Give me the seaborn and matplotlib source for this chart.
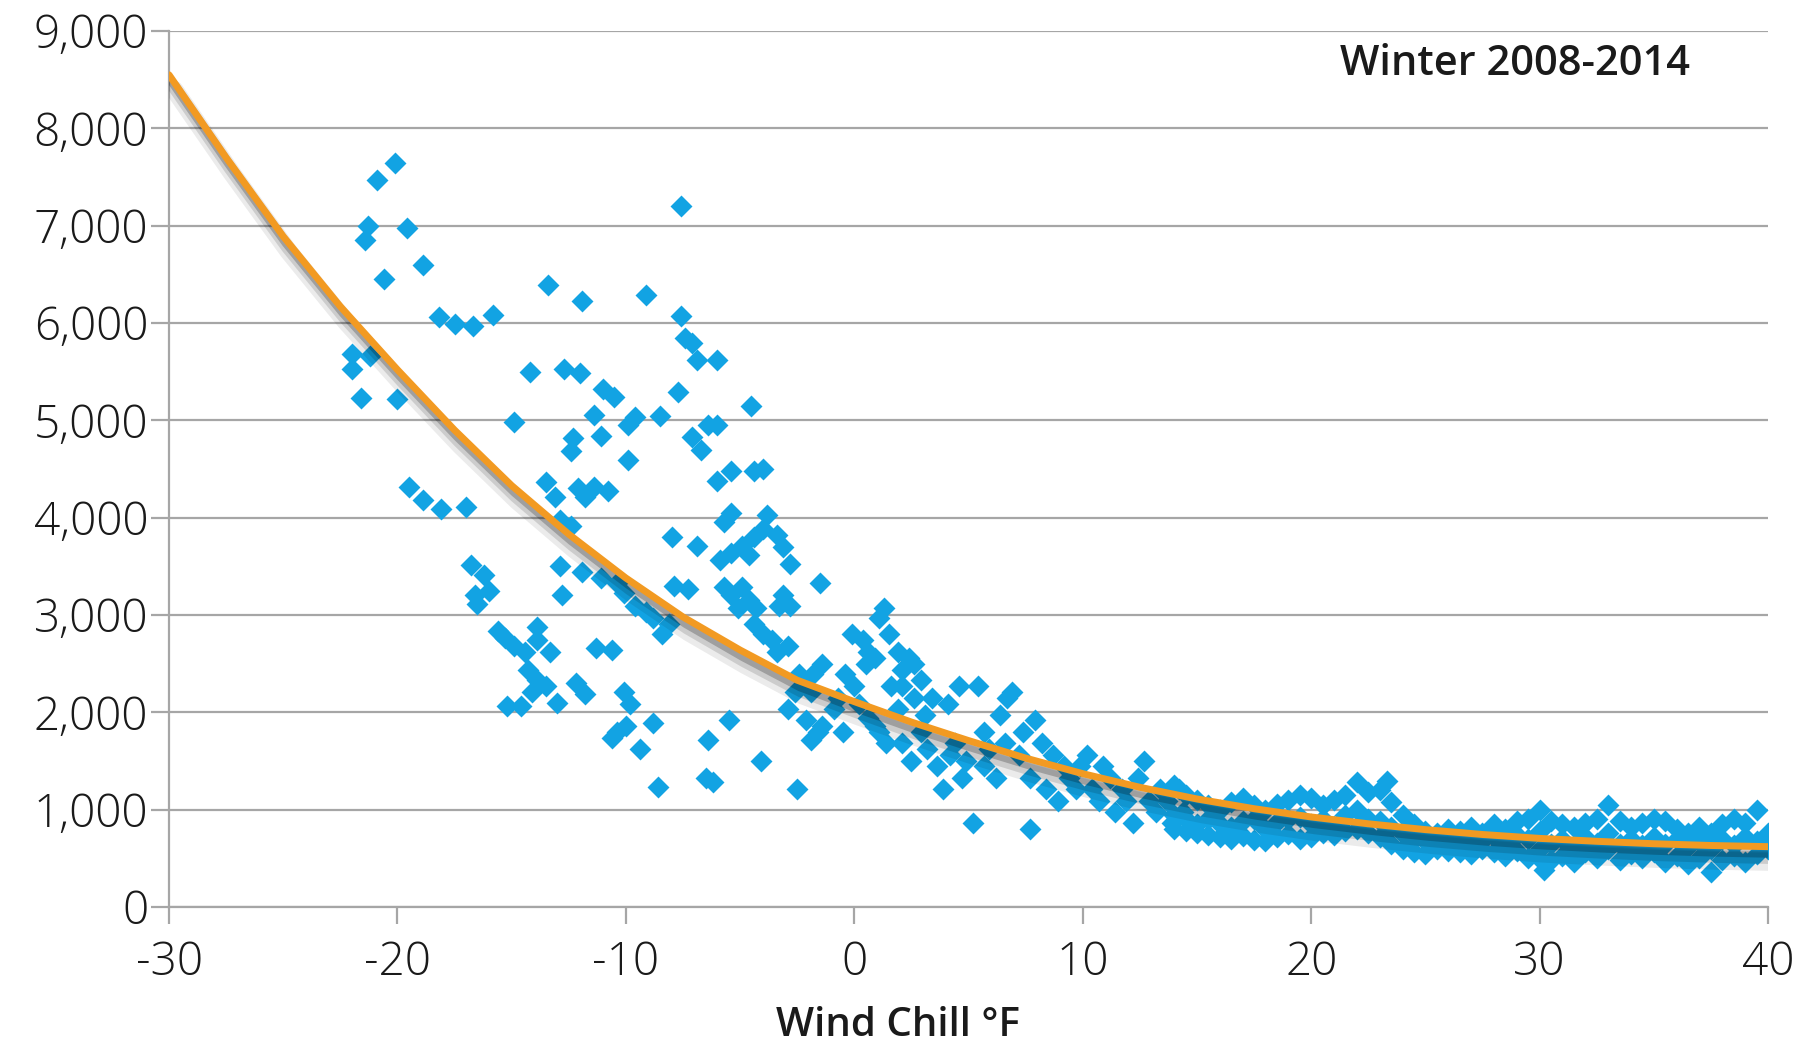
import matplotlib
matplotlib.use("Agg")
import matplotlib.pyplot as plt
import matplotlib.patheffects as pe
import seaborn as sns

# Scattered cold-weather points (wind chill degF, load)
x_cold = [-20.9, -20.1, -21.3, -21.4, -19.6, -20.6, -18.9, -22.0, -22.0, -21.6, -21.2, -20.0,
          -18.2, -17.5, -16.7, -15.8, -14.9, -14.2, -13.4, -11.9, -12.7, -12.0,
          -19.5, -18.9, -18.1, -17.0, -16.8, -16.2, -16.6, -16.0, -16.5,
          -15.6, -15.3, -14.9, -14.4, -15.2, -14.6, -13.9, -13.3, -14.3, -13.9, -13.5, -13.0, -14.1, -13.9,
          -13.5, -13.1, -12.9, -12.4, -12.9, -12.8, -12.2, -11.8, -12.4, -12.3,
          -12.1, -11.8, -11.4, -10.8, -11.4, -11.1, -11.0, -10.5,
          -11.9, -11.1, -10.4, -10.1, -11.3, -10.6, -10.4, -10.0, -10.6, -10.1, -9.8,
          -9.4, -8.8, -8.6, -9.9, -9.6, -9.9, -9.1, -8.5,
          -9.6, -9.1, -8.8, -8.4, -8.1, -8.0, -7.9, -7.3, -7.6,
          -7.6, -7.4, -7.1, -6.9, -7.7, -6.0, -7.1, -6.7, -6.4, -6.0, -6.9, -6.0,
          -5.4, -4.4, -4.0, -4.5, -5.7, -5.4,
          -5.9, -5.4, -4.9, -4.6, -4.4, -4.0, -3.8, -5.7, -5.4, -4.9, -4.6, -4.3, -5.1,
          -3.4, -3.1, -2.8, -3.1, -2.8, -3.3, -4.4, -4.0, -3.6, -3.4, -2.9,
          -5.5, -6.4, -6.5, -6.2, -4.1, -2.5, -2.9, -2.6, -2.2, -2.4,
          -1.5, -1.8, -1.9, -1.4, -2.1, -1.6, -1.4, -1.9, -0.9, -0.5, -0.7,
          -0.1, -0.4, 0.0, 0.4, 0.6, 0.5, 0.9, 1.1, 1.3, 0.2, 0.6, 0.9, 1.1, 1.4,
          1.5, 1.9, 2.1, 2.4, 2.6, 2.1, 2.6, 2.9, 1.6, 1.9, 2.1, 2.5, 2.9, 3.1, 3.4, 3.2,
          3.6, 3.9, 4.2, 4.4, 4.6, 4.1, 4.7, 5.2, 4.9, 5.4, 5.7, 5.9, 5.7, 6.2,
          6.4, 6.7, 6.9, 6.6, 7.2, 7.4, 7.7, 7.7, 7.9, 8.2, 8.4, 8.7, 8.9, 9.2, 9.4, 9.7, 9.9,
          10.2, 10.4, 10.7, 10.9, 11.2, 11.4, 11.7, 11.9, 12.2, 12.4, 12.7, 12.9, 13.2, 13.4,
          13.7, 13.9, 14.2, 14.4]
y_cold = [7470, 7640, 7000, 6850, 6980, 6450, 6600, 5680, 5530, 5230, 5660, 5220,
          6060, 5990, 5970, 6080, 4980, 5500, 6390, 6230, 5530, 5490,
          4310, 4180, 4090, 4110, 3510, 3410, 3210, 3250, 3110,
          2840, 2760, 2680, 2620, 2070, 2070, 2740, 2620, 2440, 2330, 2270, 2100, 2210, 2880,
          4370, 4210, 3980, 3910, 3500, 3210, 2300, 2190, 4680, 4820,
          4300, 4210, 4320, 4270, 5050, 4840, 5320, 5240,
          3440, 3380, 3330, 3230, 2660, 2640, 1800, 1860, 1740, 2210, 2090,
          1620, 1890, 1230, 4950, 5030, 4590, 6290, 5040,
          3090, 3030, 2970, 2800, 2910, 3800, 3300, 3270, 7200,
          6070, 5850, 5790, 5620, 5290, 5620, 4830, 4700, 4950, 4950, 3710, 4380,
          4480, 4480, 4500, 5150, 3960, 4050,
          3560, 3640, 3710, 3620, 3800, 3880, 4030, 3290, 3210, 3290, 3150, 3070, 3070,
          3820, 3700, 3520, 3210, 3090, 3090, 2910, 2800, 2740, 2620, 2680,
          1920, 1720, 1330, 1280, 1500, 1210, 2030, 2210, 2290, 2390,
          3330, 2390, 2210, 2500, 1920, 1800, 1860, 1720, 2030, 1800, 2150,
          2800, 2390, 2270, 2740, 2620, 2500, 2560, 2970, 3070, 2090, 1940, 1860, 1800, 1680,
          2800, 2620, 2440, 2560, 2500, 2270, 2150, 2330, 2270, 2030, 1680, 1500, 1800, 1970, 2150, 1620,
          1450, 1210, 1560, 1680, 2270, 2090, 1330, 860, 1500, 2270, 1800, 1620, 1450, 1330,
          1970, 2150, 2210, 1680, 1560, 1800, 1330, 800, 1920, 1680, 1210, 1560, 1090, 1450, 1330, 1210, 1450,
          1560, 1210, 1090, 1450, 1330, 980, 1210, 1090, 860, 1330, 1500, 1090, 980, 1210,
          1090, 860, 1210, 980]

# Dense mild-weather band
x_mild = [14.0, 14.0, 14.0, 14.5, 14.5, 14.5, 15.0, 15.0, 15.0, 15.5, 15.5, 15.5,
          16.0, 16.0, 16.0, 16.5, 16.5, 16.5, 17.0, 17.0, 17.0, 17.5, 17.5, 17.5,
          18.0, 18.0, 18.0, 18.5, 18.5, 18.5, 19.0, 19.0, 19.0, 19.5, 19.5, 19.5,
          20.0, 20.0, 20.0, 20.5, 20.5, 20.5, 21.0, 21.0, 21.0, 21.5, 21.5, 21.5,
          22.0, 22.0, 22.0, 22.5, 22.5, 22.5, 23.0, 23.0, 23.0, 23.3, 23.5, 23.5, 23.5,
          24.0, 24.0, 24.0, 24.5, 24.5, 24.5, 25.0, 25.0, 25.0, 25.5, 25.5, 25.5,
          26.0, 26.0, 26.0, 26.5, 26.5, 26.5, 27.0, 27.0, 27.0, 27.5, 27.5, 27.5,
          28.0, 28.0, 28.0, 28.5, 28.5, 28.5, 29.0, 29.0, 29.0, 29.5, 29.5, 29.5,
          30.0, 30.0, 30.0, 30.2, 30.2, 30.5, 30.5, 30.5, 31.0, 31.0, 31.0, 31.5, 31.5, 31.5,
          32.0, 32.0, 32.0, 32.5, 32.5, 32.5, 33.0, 33.0, 33.0, 33.5, 33.5, 33.5,
          34.0, 34.0, 34.0, 34.5, 34.5, 34.5, 35.0, 35.0, 35.0, 35.5, 35.5, 35.5,
          36.0, 36.0, 36.0, 36.5, 36.5, 36.5, 37.0, 37.0, 37.0, 37.5, 37.5, 37.5,
          38.0, 38.0, 38.0, 38.5, 38.5, 38.5, 39.0, 39.0, 39.0, 39.5, 39.5, 39.5,
          40.0, 40.0, 40.0]
y_mild = [1250, 950, 800, 1150, 900, 780, 1100, 850, 760, 1050, 900, 740,
          1000, 850, 720, 1080, 820, 700, 1120, 880, 730, 1050, 900, 690,
          1000, 800, 680, 1060, 870, 720, 1100, 900, 750, 1150, 920, 700,
          1120, 850, 720, 1050, 900, 760, 1100, 830, 740, 1150, 950, 780,
          1280, 1000, 800, 1180, 900, 760, 1200, 880, 720, 1290, 1080, 820, 650,
          950, 750, 600, 850, 700, 560, 780, 680, 540, 760, 650, 600,
          800, 700, 580, 780, 640, 560, 820, 700, 540, 760, 680, 600,
          850, 720, 560, 800, 650, 520, 880, 740, 580, 900, 700, 500,
          1000, 780, 600, 380, 450, 880, 650, 480, 850, 700, 520, 820, 620, 460,
          860, 720, 560, 900, 660, 500, 1050, 760, 600, 880, 650, 480,
          820, 700, 540, 860, 640, 500, 900, 720, 560, 880, 650, 460,
          800, 700, 520, 760, 620, 440, 820, 680, 500, 760, 600, 360,
          850, 700, 480, 900, 640, 520, 860, 720, 460, 1000, 680, 540,
          760, 700, 600]

# Trend line
trend_x = [-30, -27.5, -25, -22.5, -20, -17.5, -15, -12.5, -10, -7.5, -5, -2.5, 0,
           2.5, 5, 7.5, 10, 12.5, 15, 17.5, 20, 22.5, 25, 27.5, 30, 32.5, 35, 37.5, 40]
trend_y = [8550, 7700, 6890, 6170, 5520, 4900, 4330, 3830, 3380, 2980, 2640, 2330, 2110,
           1900, 1710, 1530, 1370, 1230, 1110, 1010, 925, 855, 795, 745, 705, 675, 650, 632, 620]

x_ticks = [-30, -20, -10, 0, 10, 20, 30, 40]
y_ticks = [0, 1000, 2000, 3000, 4000, 5000, 6000, 7000, 8000, 9000]

sns.set_theme(style="white")
plt.rcParams['font.family'] = ['Open Sans', 'DejaVu Sans']

blue = "#12A3E3"
orange = "#F29A22"
grid_gray = "#A6A6A6"
text_col = "#1a1a1a"

fig = plt.figure(figsize=(17.93, 10.45), dpi=100)
ax = fig.add_axes([169 / 1793, 1 - 907 / 1045, (1768 - 169) / 1793, (907 - 31) / 1045])

sns.scatterplot(x=x_cold + x_mild, y=y_cold + y_mild, marker="D", s=125,
                color=blue, linewidth=0, ax=ax, zorder=3)

# trend line with a soft drop shadow
sns.lineplot(x=trend_x, y=trend_y, color=orange, linewidth=5, ax=ax, zorder=4)
ax.lines[-1].set_path_effects([
    pe.SimpleLineShadow(offset=(4, -11), shadow_color="black", alpha=0.08, linewidth=13),
    pe.SimpleLineShadow(offset=(3, -8), shadow_color="black", alpha=0.13, linewidth=9),
    pe.SimpleLineShadow(offset=(2, -5), shadow_color="black", alpha=0.22, linewidth=6),
    pe.Normal(),
])

ax.set_xlim(-30, 40)
ax.set_ylim(0, 9000)
ax.set_xticks(x_ticks)
ax.set_yticks(y_ticks)
ax.set_xticklabels([str(t) for t in x_ticks])
ax.set_yticklabels([f"{t:,}" for t in y_ticks])

ax.grid(axis="y", color=grid_gray, linewidth=1.6)
ax.set_axisbelow(True)
for side in ["top", "right"]:
    ax.spines[side].set_visible(False)
for side in ["left", "bottom"]:
    ax.spines[side].set_color(grid_gray)
    ax.spines[side].set_linewidth(1.6)

ax.tick_params(axis="x", direction="out", length=12, width=1.6, color=grid_gray,
               pad=12, labelsize=33, labelcolor=text_col, bottom=True)
ax.tick_params(axis="y", direction="out", length=13, width=1.6, color=grid_gray,
               pad=2, labelsize=33, labelcolor=text_col, left=True)
for lbl in ax.get_xticklabels() + ax.get_yticklabels():
    lbl.set_fontweight("light")

ax.set_xlabel("")
ax.set_ylabel("")
fig.text(0.501, 0.018, "Wind Chill \u00b0F", ha="center", va="center",
         fontsize=29, fontweight="semibold", color=text_col)
ax.text(0.951, 0.962, "Winter 2008-2014", transform=ax.transAxes, ha="right", va="center",
        fontsize=30, fontweight="semibold", color=text_col)

fig.savefig("out.png", dpi=100)
